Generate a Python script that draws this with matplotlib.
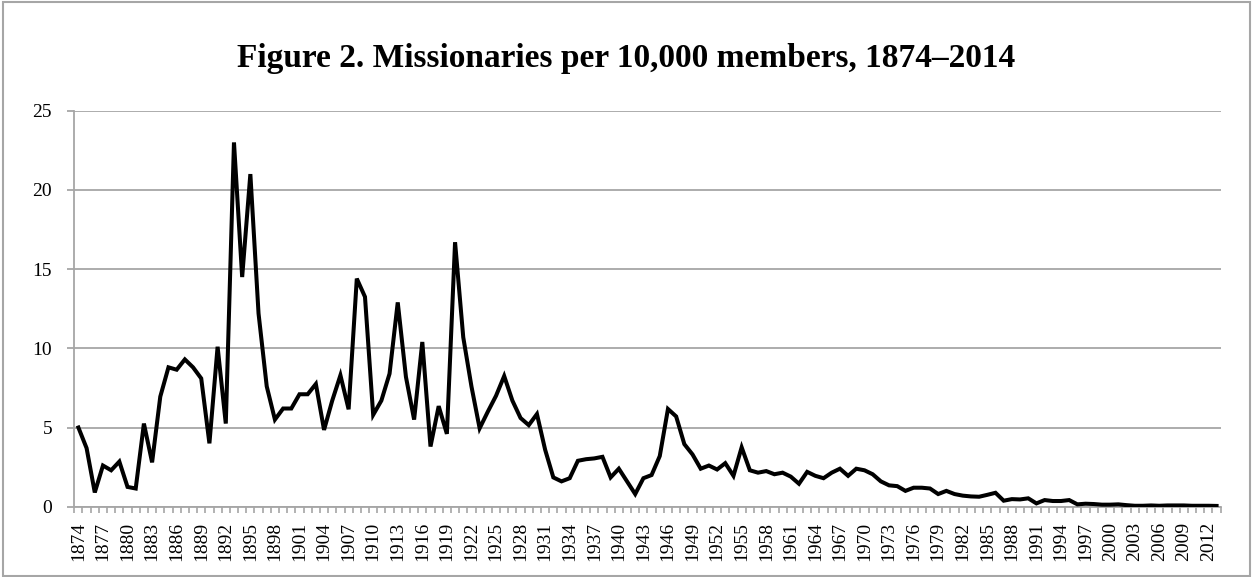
import numpy as np
import matplotlib
matplotlib.use("Agg")
import matplotlib.pyplot as plt
from matplotlib.patches import Rectangle

# Years shown on the category axis
years = list(range(1874, 2014))

# Missionaries per 10,000 members
rate = [
    5.0, 3.7, 0.9, 2.6, 2.3, 2.85, 1.25, 1.15, 5.25, 2.8,     # 1874-1883
    6.95, 8.8, 8.65, 9.3, 8.8, 8.1, 4.0, 10.1, 5.25, 23.0,    # 1884-1893
    14.5, 21.0, 12.2, 7.6, 5.5, 6.2, 6.2, 7.1, 7.1, 7.75,     # 1894-1903
    4.85, 6.7, 8.3, 6.15, 14.4, 13.25, 5.8, 6.7, 8.4, 12.9,   # 1904-1913
    8.2, 5.5, 10.4, 3.8, 6.35, 4.6, 16.7, 10.7, 7.6, 4.95,    # 1914-1923
    6.0, 7.0, 8.25, 6.7, 5.6, 5.15, 5.85, 3.6, 1.85, 1.6,     # 1924-1933
    1.8, 2.9, 3.0, 3.05, 3.15, 1.85, 2.4, 1.6, 0.8, 1.8,      # 1934-1943
    2.0, 3.2, 6.17, 5.7, 3.95, 3.3, 2.4, 2.6, 2.35, 2.75,     # 1944-1953
    1.95, 3.75, 2.3, 2.15, 2.25, 2.05, 2.15, 1.9, 1.45, 2.2,  # 1954-1963
    1.95, 1.8, 2.15, 2.4, 1.95, 2.4, 2.3, 2.05, 1.6, 1.35,    # 1964-1973
    1.3, 1.0, 1.2, 1.2, 1.15, 0.8, 1.0, 0.8, 0.7, 0.65,       # 1974-1983
    0.63, 0.75, 0.88, 0.38, 0.48, 0.46, 0.53, 0.21, 0.42, 0.36,  # 1984-1993
    0.36, 0.42, 0.15, 0.19, 0.17, 0.13, 0.13, 0.15, 0.1, 0.06,   # 1994-2003
    0.06, 0.08, 0.06, 0.08, 0.08, 0.08, 0.06, 0.06, 0.06, 0.05,  # 2004-2013
]

y_ticks = [0, 5, 10, 15, 20, 25]
grey = "#a6a6a6"

plt.rcParams["font.family"] = ["Liberation Serif", "DejaVu Serif"]

fig = plt.figure(figsize=(12.53, 5.77), dpi=100)
ax = fig.add_axes([0.0593, 0.1218, 0.9149, 0.6863])

x = np.arange(len(years))
ax.plot(x, rate, color="black", linewidth=2.9, solid_joinstyle="miter", zorder=3)

# Axes limits and grid
ax.set_xlim(-0.5, len(years) - 0.5)
ax.set_ylim(0, 25)
ax.set_yticks(y_ticks)
ax.set_yticklabels([str(v) for v in y_ticks], fontsize=14)
ax.grid(axis="y", color=grey, linewidth=1.3, zorder=0)

# Category labels every 3 years, tick marks at every category boundary
label_idx = x[::3]
ax.set_xticks(label_idx)
ax.set_xticklabels([str(years[i]) for i in label_idx], rotation=90, fontsize=14)
ax.set_xticks(np.arange(-0.5, len(years)), minor=True)
ax.tick_params(axis="x", which="major", length=0, pad=11)
ax.tick_params(axis="x", which="minor", length=4, color=grey, width=1.2)
ax.tick_params(axis="y", length=5, color=grey, width=1.3, pad=11)

for side in ["top", "right"]:
    ax.spines[side].set_visible(False)
for side in ["left", "bottom"]:
    ax.spines[side].set_color(grey)
    ax.spines[side].set_linewidth(1.3)

fig.text(0.5, 0.8844, "Figure 2. Missionaries per 10,000 members, 1874\u20132014",
         ha="center", va="baseline", fontsize=24, fontweight="bold")

# Outer chart border
fig.patches.append(Rectangle((0.002, 0.002), 0.996, 0.994, transform=fig.transFigure,
                             fill=False, edgecolor=grey, linewidth=1.5))

fig.savefig("out.png", dpi=100)
